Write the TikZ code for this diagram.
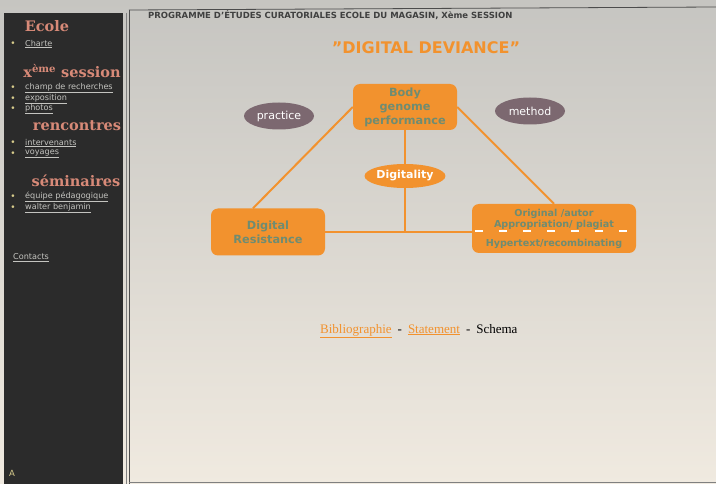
\documentclass[tikz,border=0pt]{standalone}
\usepackage{fontspec}
\setmainfont{DejaVu Sans}
\newfontfamily\webserif{Liberation Serif}
\newfontfamily\rubricfont{DejaVu Serif}
\usetikzlibrary{shapes.geometric,calc}
\definecolor{orangebox}{HTML}{F2922E}
\definecolor{greentext}{HTML}{6E8C72}
\definecolor{mauve}{HTML}{7C6870}
\definecolor{sidebar}{HTML}{2B2B2B}
\definecolor{salmon}{HTML}{D88A78}
\definecolor{linkgray}{HTML}{C4C4C0}
\definecolor{dotyellow}{HTML}{D8CC8C}
\begin{document}
\begin{tikzpicture}[x=1pt,y=-1pt,
  box/.style={rectangle, rounded corners=7pt, fill=orangebox, text=greentext, align=center, inner sep=0pt, font=\bfseries\fontsize{11.3}{14}\selectfont},
  oval/.style={ellipse, fill=mauve, text=white, inner sep=0pt, minimum width=70pt, minimum height=27pt, font=\fontsize{11}{12}\selectfont},
  rubric/.style={text=salmon, inner sep=0pt, font=\rubricfont\bfseries\fontsize{14.5}{15}\selectfont},
  link/.style={anchor=west, text=linkgray, inner sep=0pt, font=\fontsize{8.1}{9}\selectfont},
  dot/.style={text=dotyellow, inner sep=0pt, font=\fontsize{9}{9}\selectfont},
  conn/.style={orangebox, line width=2pt}]
\useasboundingbox (0,0) rectangle (716,484);
\shade[top color={rgb,255:red,198;green,197;blue,193}, bottom color={rgb,255:red,240;green,234;blue,224}] (0,0) rectangle (716,484);
\fill[sidebar] (4,13) rectangle (123,484);
\draw[gray, line width=0.8pt] (126,13) -- (126,484);
\draw[black!70, line width=0.8pt] (129,10) -- (129,484);
\draw[black!70, line width=0.8pt] (129,10) -- (716,7);
\draw[black!50, line width=0.8pt] (129,482) -- (716,482);
% sidebar
\node[rubric] (ecole) at (47,26) {Ecole};
\node[dot] (d1) at (13,44) {•};
\node[link] (charte) at (25,44) {\underline{Charte}};
\node[rubric] (session) at (72,71) {x\textsuperscript{ème} session};
\node[dot] (d2) at (13,88) {•};
\node[link] (champ) at (25,88) {\underline{champ de recherches}};
\node[dot] (d3) at (13,99) {•};
\node[link] (expo) at (25,99) {\underline{exposition}};
\node[dot] (d4) at (13,109) {•};
\node[link] (photos) at (25,109) {\underline{photos}};
\node[rubric] (rencontres) at (77,126) {rencontres};
\node[dot] (d5) at (13,143) {•};
\node[link] (interv) at (25,143) {\underline{intervenants}};
\node[dot] (d6) at (13,154) {•};
\node[link] (voyages) at (25,154) {\underline{voyages}};
\node[rubric] (seminaires) at (76,181) {séminaires};
\node[dot] (d7) at (13,197) {•};
\node[link] (equipe) at (25,197) {\underline{équipe pédagogique}};
\node[dot] (d8) at (13,208) {•};
\node[link] (walter) at (25,208) {\underline{walter benjamin}};
\node[link] (contacts) at (13,258) {\underline{Contacts}};
\node[text=dotyellow, font=\fontsize{8.5}{9}\selectfont] (lettre) at (12,473) {A};
% main
\node[anchor=west, text=black!75, inner sep=0pt, font=\bfseries\fontsize{8.5}{9}\selectfont] (programme) at (148,15) {PROGRAMME D'ÉTUDES CURATORIALES ECOLE DU MAGASIN, Xème SESSION};
\node[text=orangebox, inner sep=0pt, font=\bfseries\fontsize{16}{17}\selectfont] (titre) at (426,48) {\char34 DIGITAL DEVIANCE\char34};
\node[box, minimum width=104pt, minimum height=46pt] (body) at (405,107) {Body\\genome\\performance};
\node[oval] (practice) at (279,116) {practice};
\node[oval] (method) at (530,111) {method};
\node[oval, fill=orangebox, minimum width=68pt, minimum height=24pt, font=\bfseries\fontsize{11}{12}\selectfont] (dig) at (405,176) {Digitality};
\node[box, minimum width=114pt, minimum height=47pt] (res) at (268,232) {Digital\\Resistance};
\node[box, minimum width=164pt, minimum height=49pt, font=\bfseries\fontsize{9.6}{11}\selectfont] (orig) at (554,228.5) {Original /autor\\Appropriation/ plagiat\\[8pt]Hypertext/recombinating};
\draw[white, line width=1.5pt, dash pattern=on 8pt off 16pt] ($(orig.west)+(3,2.5)$) -- ($(orig.east)+(0,2.5)$);
\draw[conn](body.west) -- ($(res.north)+(-15,0)$);
\draw[conn](body.east) -- (orig.north);
\draw[conn](body.south) -- (dig.north);
\draw[conn](dig.south) -- (dig.south |- res.east);
\draw[conn](res.east) -- (res.east -| orig.west);
\node[anchor=west, inner sep=0pt, font=\webserif\fontsize{13}{14}\selectfont] (liens) at (320,331) {\textcolor{orangebox}{\underline{Bibliographie}}\hspace{6pt}-\hspace{6pt}\textcolor{orangebox}{\underline{Statement}}\hspace{6pt}-\hspace{6pt}Schema};
\end{tikzpicture}
\end{document}
